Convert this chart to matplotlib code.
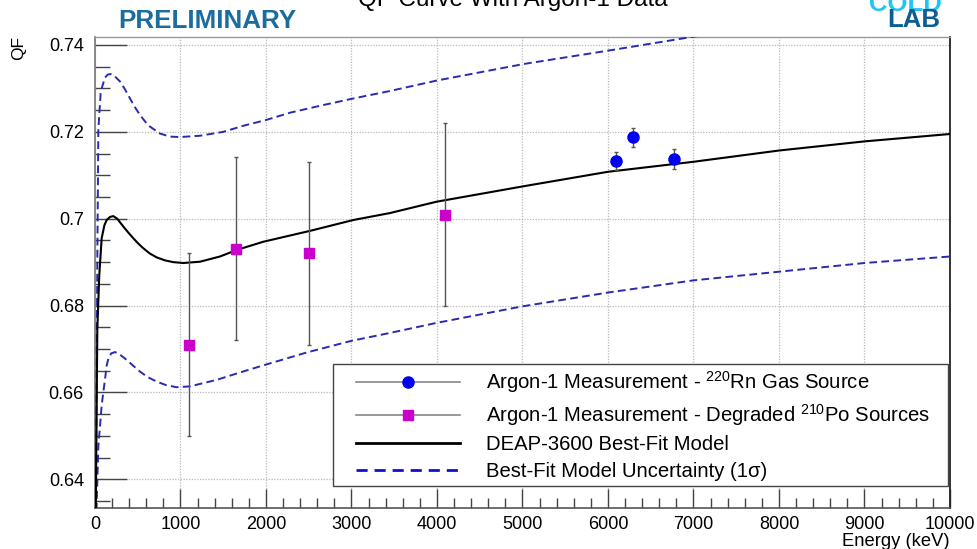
import matplotlib
matplotlib.use("Agg")
import matplotlib.pyplot as plt
from matplotlib.lines import Line2D
from matplotlib.legend_handler import HandlerLine2D
from matplotlib.ticker import MultipleLocator, FuncFormatter

plt.rcParams["font.family"] = ["Liberation Sans", "DejaVu Sans"]
plt.rcParams["mathtext.fontset"] = "custom"
plt.rcParams["mathtext.rm"] = "Liberation Sans"
plt.rcParams["mathtext.it"] = "Liberation Sans:italic"
plt.rcParams["mathtext.bf"] = "Liberation Sans:bold"

# --- Argon-1 measurements -------------------------------------------------
rn_energy = [6090, 6289, 6776]
rn_qf = [0.7132, 0.7187, 0.7137]
rn_err = [0.0021, 0.0022, 0.0023]

po_energy = [1100, 1649, 2503, 4094]
po_qf = [0.6710, 0.6931, 0.6920, 0.7009]
po_err = [0.0211, 0.0210, 0.0211, 0.0211]

# --- DEAP-3600 best-fit model and 1 sigma band -----------------------------
fit_energy = [8, 27, 50, 78, 110, 137, 175, 214, 260, 331, 390, 448, 505, 565,
              640, 721, 820, 916, 1033, 1228, 1462, 1657, 1969, 2515, 3021, 3450,
              3992, 4992, 5999, 6998, 8001, 9000, 10000]
fit_qf = [0.6300, 0.6744, 0.6870, 0.6955, 0.6985, 0.6997, 0.7004, 0.7006, 0.7000,
          0.6982, 0.6968, 0.6955, 0.6943, 0.6932, 0.6920, 0.6911, 0.6904, 0.6900,
          0.6898, 0.6901, 0.6913, 0.6928, 0.6947, 0.6972, 0.6997, 0.7013, 0.7039,
          0.7074, 0.7108, 0.7131, 0.7157, 0.7178, 0.7195]

upper_energy = [10, 20, 27, 39, 66, 78, 117, 150, 184, 230, 292, 350, 409, 466,
                526, 585, 643, 760, 877, 994, 1228, 1501, 1735, 1996, 2281, 2632,
                3002, 3450, 3996, 5010, 6004, 6998, 7300]
upper_qf = [0.6300, 0.6668, 0.6898, 0.7204, 0.7289, 0.7300, 0.7325, 0.7332, 0.7333,
            0.7328, 0.7316, 0.7298, 0.7277, 0.7257, 0.7239, 0.7224, 0.7212, 0.7196,
            0.7189, 0.7188, 0.7191, 0.7200, 0.7214, 0.7227, 0.7244, 0.7260, 0.7276,
            0.7294, 0.7318, 0.7356, 0.7387, 0.7419, 0.7428]

lower_energy = [15, 20, 39, 78, 97, 117, 137, 156, 190, 234, 280, 370, 450, 526,
                620, 721, 830, 955, 1111, 1423, 1696, 1996, 2476, 3002, 3450, 3992,
                4992, 5999, 6998, 8001, 9000, 10000]
lower_qf = [0.6300, 0.6346, 0.6475, 0.6570, 0.6600, 0.6630, 0.6662, 0.6678, 0.6690,
            0.6693, 0.6689, 0.6675, 0.6661, 0.6648, 0.6635, 0.6625, 0.6617, 0.6612,
            0.6614, 0.6629, 0.6646, 0.6664, 0.6692, 0.6719, 0.6737, 0.6760, 0.6798,
            0.6830, 0.6858, 0.6878, 0.6898, 0.6913]

x_range = (0, 10000)
y_range = (0.6334, 0.7419)

fig = plt.figure(figsize=(9.78, 5.49), dpi=100)
ax = fig.add_axes([95 / 978, 1 - 508 / 549, 855 / 978, (508 - 36.7) / 549])

band_color = "#2a2ab0"
ax.plot(upper_energy, upper_qf, color=band_color, lw=1.4, ls=(0, (4, 2.2)), zorder=3)
ax.plot(lower_energy, lower_qf, color=band_color, lw=1.4, ls=(0, (4, 2.2)), zorder=3)
ax.plot(fit_energy, fit_qf, color="black", lw=1.5, zorder=4)

ax.errorbar(po_energy, po_qf, yerr=po_err, fmt="s", color="#cc00cc", ms=7.5,
            ecolor="#555555", elinewidth=1.0, capsize=1.5, capthick=1.0, zorder=5)
ax.errorbar(rn_energy, rn_qf, yerr=rn_err, fmt="o", color="#0000ee", ms=8,
            ecolor="#555555", elinewidth=1.0, capsize=1.5, capthick=1.0, zorder=5)

ax.set_xlim(*x_range)
ax.set_ylim(*y_range)

ax.xaxis.set_major_locator(MultipleLocator(1000))
ax.xaxis.set_minor_locator(MultipleLocator(200))
ax.yaxis.set_major_locator(MultipleLocator(0.02))
ax.yaxis.set_minor_locator(MultipleLocator(0.005))
ax.xaxis.set_major_formatter(FuncFormatter(lambda v, p: f"{v:g}"))
ax.yaxis.set_major_formatter(FuncFormatter(lambda v, p: f"{round(v, 4):g}"))

ax.tick_params(axis="both", which="both", direction="in", top=False, right=False,
               labelsize=13, colors="#444444", labelcolor="black")
ax.tick_params(axis="x", which="major", length=14, width=1, pad=6)
ax.tick_params(axis="x", which="minor", length=7, width=1)
ax.tick_params(axis="y", which="major", length=23, width=1, pad=8)
ax.tick_params(axis="y", which="minor", length=11, width=1)

ax.grid(True, which="major", color="#b8b8b8", ls=(0, (1, 1.2)), lw=0.9)

for side, col, lw in [("left", "#777777", 1.2), ("bottom", "#555555", 1.2),
                      ("top", "#999999", 1.0), ("right", "#222222", 1.3)]:
    ax.spines[side].set_color(col)
    ax.spines[side].set_linewidth(lw)

fig.text(19 / 978, 1 - 48 / 549, "QF", rotation=90, ha="center", va="center",
         fontsize=12.5)
fig.text(950 / 978, 1 - 541 / 549, "Energy (keV)", ha="right", va="center",
         fontsize=13.2)

fig.text(513 / 978, 1 - 6 / 549, "QF Curve With Argon-1 Data", ha="center",
         va="baseline", fontsize=17.5)
fig.text(207.5 / 978, 1 - 21 / 549, "PRELIMINARY", ha="center", va="center",
         fontsize=18.7, fontweight="bold", color="#1a6d9d")
fig.text(905 / 978, 1 - 4 / 549, "COLD", ha="center", va="center",
         fontsize=18.5, fontweight="bold", color="#22c4f2")
fig.text(913.5 / 978, 1 - 20 / 549, "LAB", ha="center", va="center",
         fontsize=18.5, fontweight="bold", color="#0c5e92")

handles = [
    Line2D([], [], color="#888888", lw=1.2, marker="o", mfc="#0000ee",
           mec="#0000ee", ms=8),
    Line2D([], [], color="#888888", lw=1.2, marker="s", mfc="#cc00cc",
           mec="#cc00cc", ms=7.5),
    Line2D([], [], color="black", lw=2.0),
    Line2D([], [], color="#1010cc", lw=2.0, ls=(0, (4, 2.5))),
]
labels = [
    "Argon-1 Measurement - $^{220}$Rn Gas Source",
    "Argon-1 Measurement - Degraded $^{210}$Po Sources",
    "DEAP-3600 Best-Fit Model",
    "Best-Fit Model Uncertainty (1\u03c3)",
]
fs = 14.6
fs_px = fs * 100 / 72
leg = ax.legend(handles, labels, loc="upper left",
                bbox_to_anchor=(333 / 978, 1 - 493 / 549, 615 / 978, 129 / 549),
                bbox_transform=fig.transFigure, mode="expand", fontsize=fs,
                frameon=True, fancybox=False, framealpha=1, edgecolor="#444444",
                borderpad=0.25, borderaxespad=0, numpoints=1,
                handlelength=(460 - 338) / fs_px,
                handletextpad=26 / fs_px, labelspacing=0.36,
                handler_map={Line2D: HandlerLine2D(xpad=18 / fs_px)})
leg.get_frame().set_linewidth(1.0)
leg.set_zorder(10)

fig.savefig("out.png", dpi=100)
